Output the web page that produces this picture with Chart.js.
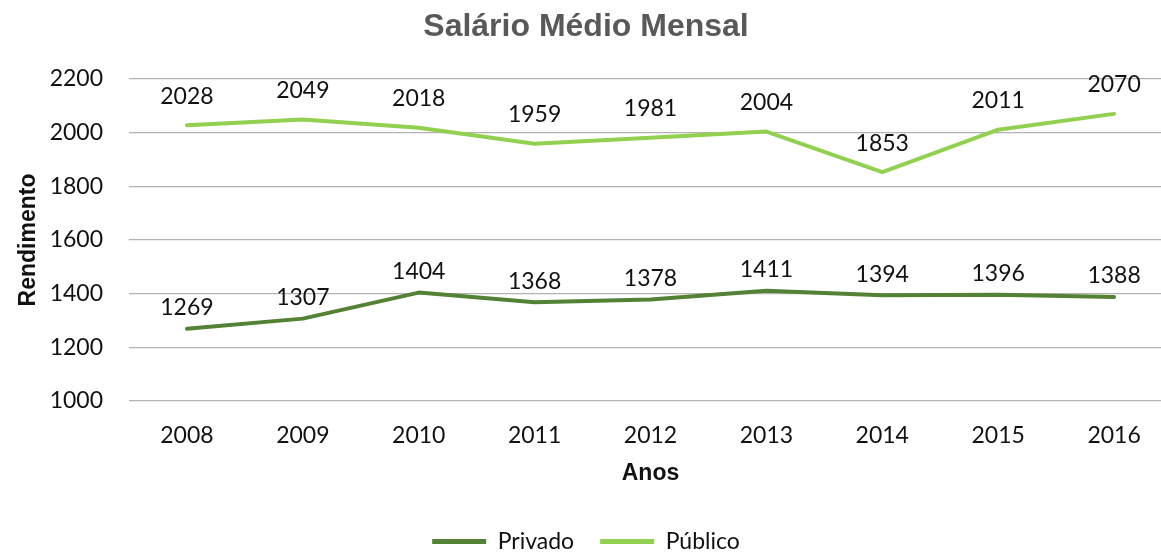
<!DOCTYPE html>
<html>
<head>
<meta charset="utf-8">
<script src="https://cdn.jsdelivr.net/npm/chart.js@4.4.0/dist/chart.umd.min.js"></script>
<style>
  html, body { margin: 0; padding: 0; background: #fff; overflow: hidden; }
  #wrap { width: 1172px; height: 553px; }
</style>
</head>
<body>
<div id="wrap"><canvas id="c" width="1172" height="553"></canvas></div>
<script>
const anos = ['2008','2009','2010','2011','2012','2013','2014','2015','2016'];
const privado = [1269, 1307, 1404, 1368, 1378, 1411, 1394, 1396, 1388];
const publico = [2028, 2049, 2018, 1959, 1981, 2004, 1853, 2011, 2070];
const yTicks = [1000, 1200, 1400, 1600, 1800, 2000, 2200];

const COL_PRIV = '#548235';
const COL_PUB = '#92D050';
const TICK_FONT = { family: 'Lato', size: 23 };

const labelPlugin = {
  id: 'pointLabels',
  afterDatasetsDraw(chart) {
    const ctx = chart.ctx;
    ctx.save();
    ctx.font = '23px Lato';
    ctx.fillStyle = '#111';
    ctx.textAlign = 'center';
    ctx.textBaseline = 'middle';
    chart.data.datasets.forEach((ds, i) => {
      const meta = chart.getDatasetMeta(i);
      const off = ds.labelOffset;
      meta.data.forEach((pt, j) => {
        ctx.fillText(String(ds.data[j]), pt.x, pt.y - off);
      });
    });
    ctx.restore();
  }
};

new Chart(document.getElementById('c'), {
  type: 'line',
  data: {
    labels: anos,
    datasets: [
      { label: 'Privado', data: privado, borderColor: COL_PRIV, backgroundColor: COL_PRIV,
        borderWidth: 4, pointRadius: 0, tension: 0, borderCapStyle: 'round', borderJoinStyle: 'round', labelOffset: 21 },
      { label: 'Público', data: publico, borderColor: COL_PUB, backgroundColor: COL_PUB,
        borderWidth: 4, pointRadius: 0, tension: 0, borderCapStyle: 'round', borderJoinStyle: 'round', labelOffset: 29 }
    ]
  },
  options: {
    responsive: false,
    animation: false,
    layout: { padding: { left: 0, right: 0, top: 0, bottom: -10 } },
    plugins: {
      tooltip: { enabled: false },
      title: {
        display: true,
        text: 'Salário Médio Mensal',
        color: '#595959',
        font: { family: 'Liberation Sans', size: 32, weight: 'bold' },
        padding: { top: 8, bottom: 32.6 }
      },
      legend: {
        position: 'bottom',
        labels: {
          font: { family: 'Lato', size: 23 },
          color: '#111',
          boxWidth: 54,
          boxHeight: 5,
          padding: 26,
          useBorderRadius: true,
          borderRadius: 2.5,
          generateLabels(chart) {
            return chart.data.datasets.map((ds, i) => ({
              text: ds.label,
              fillStyle: ds.borderColor,
              strokeStyle: ds.borderColor,
              lineWidth: 0,
              fontColor: '#111',
              hidden: false,
              datasetIndex: i
            }));
          }
        }
      }
    },
    scales: {
      x: {
        offset: true,
        grid: { display: false, drawTicks: false, offset: true },
        border: { display: false },
        ticks: { font: TICK_FONT, color: '#111', padding: 21, maxRotation: 0 },
        title: {
          display: true, text: 'Anos', color: '#111',
          font: { family: 'Liberation Sans', size: 23, weight: 'bold' },
          padding: { top: 0, bottom: 17 }
        },
        afterFit(s) { s.height = 103; }
      },
      y: {
        min: 1000, max: 2200,
        afterBuildTicks(s) { s.ticks = yTicks.map(v => ({ value: v })); },
        grid: { color: '#b3b3b3', lineWidth: 1.3, drawTicks: false },
        border: { display: false },
        ticks: { font: TICK_FONT, color: '#111', padding: 26, callback: v => String(v) },
        title: {
          display: true, text: 'Rendimento', color: '#111',
          font: { family: 'Liberation Sans', size: 23, weight: 'bold' },
          padding: { top: 15, bottom: 0 }
        },
        afterFit(s) { s.width = 129; }
      }
    }
  },
  plugins: [labelPlugin]
});
</script>
</body>
</html>
